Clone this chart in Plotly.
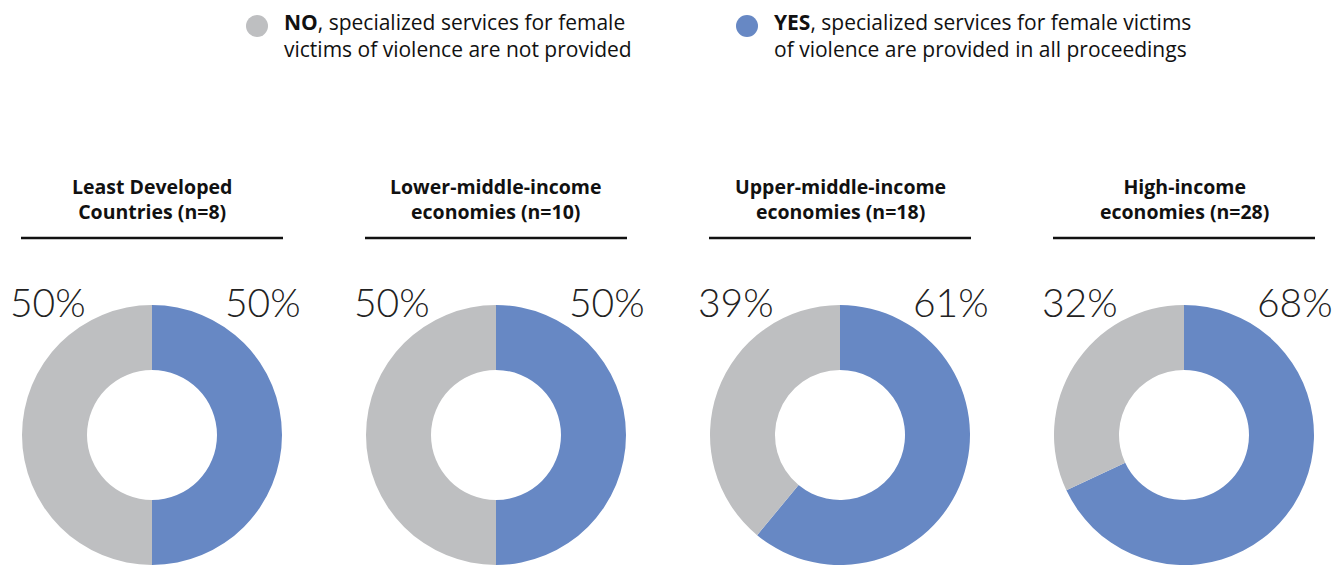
import plotly.graph_objects as go

# ---- data ----
groups = ["Least Developed<br>Countries (n=8)",
          "Lower-middle-income<br>economies (n=10)",
          "Upper-middle-income<br>economies (n=18)",
          "High-income<br>economies (n=28)"]
yes_pct = [50, 50, 61, 68]
no_pct = [50, 50, 39, 32]
series_names = ["YES", "NO"]
legend_no = "<b>NO</b>, specialized services for female<br>victims of violence are not provided"
legend_yes = "<b>YES</b>, specialized services for female victims<br>of violence are provided in all proceedings"

# ---- style ----
W, H = 1342, 565
OFF = 8  # page body margin
BLUE = "#6788C4"
GRAY = "#BEBFC1"
FONT = "Open Sans"
centers_px = [152, 496, 840, 1184]   # page coords
R = 130
CY = 435

fig = go.Figure()
shapes = []
annotations = []

def px_x(x):
    return (x - OFF) / W

def px_y(y):
    return 1 - (y - OFF) / H

for i, (g, y_, n_) in enumerate(zip(groups, yes_pct, no_pct)):
    cx = centers_px[i]
    fig.add_trace(go.Pie(
        values=[y_, n_],
        labels=series_names,
        marker=dict(colors=[BLUE, GRAY], line=dict(width=0)),
        hole=0.5,
        sort=False,
        direction="clockwise",
        rotation=0,
        textinfo="none",
        hoverinfo="label+percent",
        showlegend=False,
        domain=dict(x=[px_x(cx - R), px_x(cx + R)], y=[px_y(CY + R), px_y(CY - R)]),
    ))
    # title
    annotations.append(dict(
        x=px_x(cx), y=px_y(199), xref="paper", yref="paper",
        text=g, showarrow=False, xanchor="center", yanchor="middle",
        font=dict(family=FONT, size=19.5, color="#111111", weight="bold"),
    ))
    # rule
    shapes.append(dict(type="line", xref="paper", yref="paper",
                       x0=px_x(cx - 131), x1=px_x(cx + 131),
                       y0=px_y(238), y1=px_y(238),
                       line=dict(color="#111111", width=2.5)))
    # percent labels
    annotations.append(dict(
        x=px_x(cx - 144), y=px_y(302), xref="paper", yref="paper",
        text=f"{n_}%", showarrow=False, xanchor="left", yanchor="middle",
        font=dict(family="Lato", size=39, color="#222222", weight=300),
    ))
    annotations.append(dict(
        x=px_x(cx + 151), y=px_y(302), xref="paper", yref="paper",
        text=f"{y_}%", showarrow=False, xanchor="right", yanchor="middle",
        font=dict(family="Lato", size=39, color="#222222", weight=300),
    ))

# legend
for (cx, color, txt) in [(257, GRAY, legend_no), (747, BLUE, legend_yes)]:
    shapes.append(dict(type="circle", xref="paper", yref="paper",
                       x0=px_x(cx - 11), x1=px_x(cx + 11),
                       y0=px_y(37), y1=px_y(15),
                       fillcolor=color, line=dict(width=0)))
    annotations.append(dict(
        x=px_x(cx + 25), y=px_y(35.5), xref="paper", yref="paper",
        text=txt, showarrow=False, xanchor="left", yanchor="middle", align="left",
        font=dict(family=FONT, size=21, color="#111111"),
    ))

fig.update_layout(
    width=W, height=H,
    margin=dict(l=0, r=0, t=0, b=0),
    paper_bgcolor="white", plot_bgcolor="white",
    shapes=shapes, annotations=annotations,
    showlegend=False,
)

fig.write_html("out.html")
